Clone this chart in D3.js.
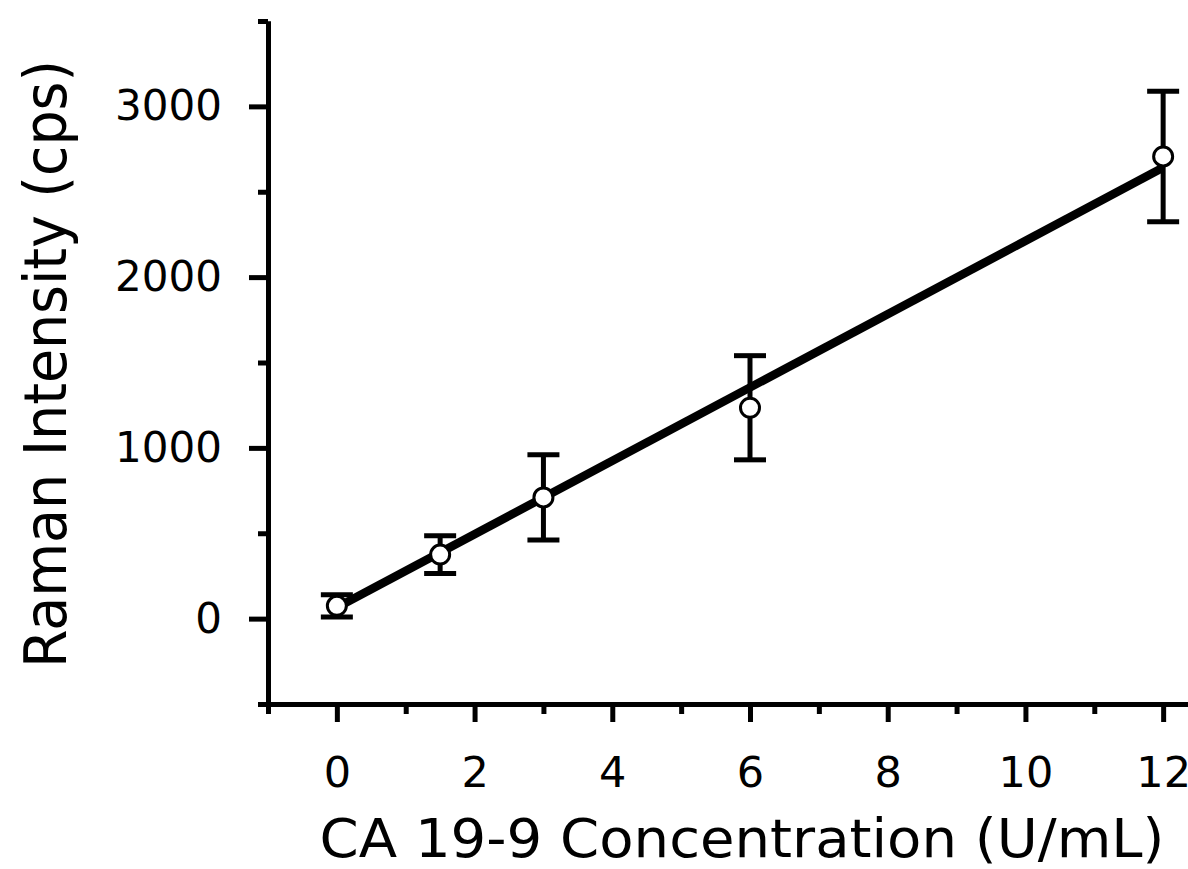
<!DOCTYPE html>
<html>
<head>
<meta charset="utf-8">
<script src="https://cdn.jsdelivr.net/npm/d3@7"></script>
<style>
  body { margin: 0; background: #fff; }
  svg { display: block; }
  text { font-family: 'DejaVu Sans', Verdana, sans-serif; fill: #000; }
</style>
</head>
<body>
<div id="chart"></div>
<script>
// Data
let conc = [0, 1.5, 3, 6, 12];
let intensity = [75, 375, 710, 1235, 2707];
let errors = [65, 110, 250, 305, 382];

// linear fit, drawn between its two end points
let fitX = [0, 12];
let fitY = [65, 2642];

let xTicks = [0, 2, 4, 6, 8, 10, 12];
let xMinor = [-1, 1, 3, 5, 7, 9, 11];
let yTicks = [0, 1000, 2000, 3000];
let yMinor = [-500, 500, 1500, 2500, 3500];

// D3 Code
let width = 1188;
let height = 869;

let x = d3.scaleLinear().domain([-1, 13]).range([268, 1232]);
let y = d3.scaleLinear().domain([-500, 3500]).range([704, 21]);

let svg = d3.select('#chart').append('svg').attr('width', width).attr('height', height);

// y axis
svg
  .append('g')
  .attr('transform', 'translate(' + x(-1) + ',0)')
  .call(d3.axisLeft(y).tickValues(yMinor).tickSize(10).tickSizeOuter(0).tickFormat(''));

let yAxis = svg
  .append('g')
  .attr('transform', 'translate(' + x(-1) + ',0)')
  .call(
    d3.axisLeft(y).tickValues(yTicks).tickSize(19).tickSizeOuter(0).tickPadding(27).tickFormat(d3.format('d'))
  );

// x axis
svg
  .append('g')
  .attr('transform', 'translate(0,' + y(-500) + ')')
  .call(d3.axisBottom(x).tickValues(xMinor).tickSize(10).tickSizeOuter(0).tickFormat(''));

let xAxis = svg
  .append('g')
  .attr('transform', 'translate(0,' + y(-500) + ')')
  .call(d3.axisBottom(x).tickValues(xTicks).tickSize(18).tickSizeOuter(0).tickPadding(34));

svg.selectAll('.domain, .tick line').attr('stroke', '#000').attr('stroke-width', 5);
yAxis.selectAll('text').style('font-size', '42px');
xAxis.selectAll('text').style('font-size', '43px');

// axis titles
svg
  .append('text')
  .attr('x', 742)
  .attr('y', 857)
  .attr('text-anchor', 'middle')
  .attr('textLength', 845)
  .attr('lengthAdjust', 'spacingAndGlyphs')
  .style('font-size', '53px')
  .text('CA 19-9 Concentration (U/mL)');

svg
  .append('text')
  .attr('transform', 'translate(66,364) rotate(-90)')
  .attr('text-anchor', 'middle')
  .attr('textLength', 608)
  .attr('lengthAdjust', 'spacingAndGlyphs')
  .style('font-size', '58px')
  .text('Raman Intensity (cps)');

// fit line
svg
  .append('line')
  .attr('x1', x(fitX[0]))
  .attr('y1', y(fitY[0]))
  .attr('x2', x(fitX[1]))
  .attr('y2', y(fitY[1]))
  .attr('stroke', '#000')
  .attr('stroke-width', 8.5);

// error bars
conc.forEach(function (c, i) {
  let g = svg.append('g').attr('stroke', '#000').attr('stroke-width', 5);
  let top = y(intensity[i] + errors[i]);
  let bot = y(intensity[i] - errors[i]);
  g.append('line').attr('x1', x(c)).attr('x2', x(c)).attr('y1', top).attr('y2', bot);
  g.append('line').attr('x1', x(c) - 16).attr('x2', x(c) + 16).attr('y1', top).attr('y2', top);
  g.append('line').attr('x1', x(c) - 16).attr('x2', x(c) + 16).attr('y1', bot).attr('y2', bot);
});

// points
svg
  .selectAll('circle.pt')
  .data(conc)
  .enter()
  .append('circle')
  .attr('class', 'pt')
  .attr('cx', function (d) {
    return x(d);
  })
  .attr('cy', function (d, i) {
    return y(intensity[i]);
  })
  .attr('r', 9.5)
  .style('fill', '#fff')
  .style('stroke', '#000')
  .style('stroke-width', 3);
</script>
</body>
</html>
